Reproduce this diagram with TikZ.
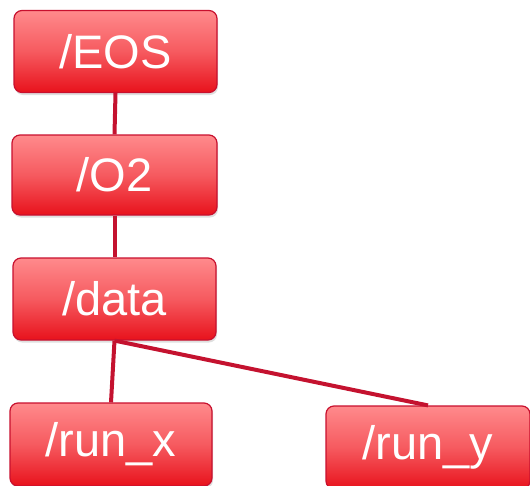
\documentclass[tikz,border=0pt]{standalone}
\usepackage{fontspec}
\setmainfont{Liberation Sans}
\usetikzlibrary{shadows}
\definecolor{topred}{HTML}{FF8A8C}
\definecolor{botred}{HTML}{E8121C}
\definecolor{edgered}{HTML}{C8102E}
\definecolor{linered}{HTML}{C4122F}
\tikzset{
  dirbox/.style={draw=edgered, line width=1.2pt, rounded corners=8pt,
    top color=topred, bottom color=botred, middle color=topred!60!botred,
    text=white, font=\fontsize{47}{50}\selectfont,
    minimum width=203pt, minimum height=82pt, inner sep=0pt,
    drop shadow={opacity=0.25, shadow xshift=1pt, shadow yshift=-2.5pt}},
  link/.style={draw=linered, line width=4pt}
}
\begin{document}
\begin{tikzpicture}[x=1pt,y=-1pt]
\useasboundingbox (0,0) rectangle (530,485);
\clip (0,0) rectangle (530,485);
\node[dirbox] (eos) at (115.5,51.5) {/EOS};
\node[dirbox, minimum width=205pt, minimum height=80pt] (o2) at (114.5,175) {/O2};
\node[dirbox] (data) at (114.5,299) {/data};
\node[dirbox, minimum width=202pt, minimum height=83pt] (runx) at (111,444.5) {/run\_x};
\node[dirbox, minimum width=204pt, minimum height=83pt] (runy) at (428,447.5) {/run\_y};
\draw[link] (eos.south) -- (o2.north);
\draw[link] (o2.south) -- (data.north);
\draw[link] (data.south) -- (runx.north);
\draw[link] (data.south) -- (runy.north);
\end{tikzpicture}
\end{document}
